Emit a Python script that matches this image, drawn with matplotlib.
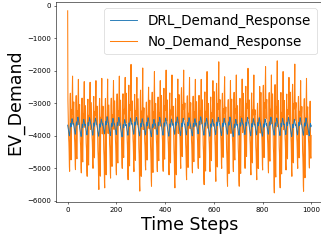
import matplotlib
matplotlib.use('Agg')
import matplotlib.pyplot as plt
import numpy as np

# daily peaks / troughs of the uncontrolled demand (one per 24 steps)
no_dr_peak = [-2160, -2260, -2330, -2350, -2300, -2230, -2250, -2300, -2160, -2200,
              -1800, -2200, -1910, -2500, -2020, -2300, -1975, -2125, -2250, -1975,
              -2200, -2260, -2260, -2020, -2300, -1720, -2180, -2300, -2125, -2250,
              -1920, -2125, -2480, -1870, -2125, -1690, -2020, -2200, -1790, -2300,
              -2230, -2480]
no_dr_trough = [-5090, -5040, -5140, -5245, -5000, -5650, -5600, -5300, -5200, -5000,
                -5350, -5100, -5700, -5050, -5550, -5100, -5090, -5200, -5600, -5000,
                -5350, -5140, -5000, -5500, -5100, -5400, -5000, -5550, -5100, -5550,
                -5000, -5200, -5350, -5050, -5140, -5755, -5600, -5050, -5245, -5000,
                -5705, -4990]
# shape of one day (0 = trough, 1 = peak)
no_dr_hour = [0.7, 0.75, 0.6, 0.45, 0.35, 0.3, 0.2, 0.05, 0.0, 0.35, 0.75, 0.82,
              0.55, 0.15, 0.12, 0.4, 0.65, 0.6, 0.7, 0.88, 1.0, 0.75, 0.5, 0.6]
no_dr_start = -150

# DRL controlled demand, one day profile plus small day shifts
drl_hour = [-3650, -3700, -3750, -3800, -3850, -3900, -3950, -3980, -3950, -3850,
            -3750, -3650, -3600, -3650, -3700, -3650, -3550, -3500, -3450, -3480,
            -3520, -3580, -3620, -3640]
drl_day = [-20, 30, -40, 10, 0, -30, 40, -10, 20, -50, 0, 30, -20, 10, -40, 20, 0,
           -30, 30, -10, 10, -20, 40, 0, -30, 20, -10, 30, -40, 0, 20, -20, 10, -30,
           30, 0, -10, 20, -40, 10, 0, -20]

n_steps = 1000

# build the series from the day tables
no_dr = []
drl = []
for d in range(len(no_dr_peak)):
    for h in range(24):
        no_dr.append(no_dr_trough[d] + no_dr_hour[h] * (no_dr_peak[d] - no_dr_trough[d]))
        drl.append(drl_hour[h] + drl_day[d])
no_dr = np.array(no_dr[:n_steps])
drl = np.array(drl[:n_steps])
no_dr[0] = no_dr_start
steps = np.arange(n_steps)

fig = plt.figure(figsize=(6.42, 4.82), dpi=50)
ax = fig.add_axes([55.5 / 321, 39 / 241, 267.8 / 321, 200.3 / 241])

ax.plot(steps, drl, color='tab:blue', label='DRL_Demand_Response', lw=1.3, zorder=3)
ax.plot(steps, no_dr, color='tab:orange', label='No_Demand_Response', lw=1.5, zorder=2)

ax.set_xlabel('Time Steps', fontsize=25)
ax.set_ylabel('EV_Demand', fontsize=25)
ax.tick_params(labelsize=10)
ax.legend(loc='upper right', fontsize=19.5)

fig.savefig('out.png', dpi=50)
